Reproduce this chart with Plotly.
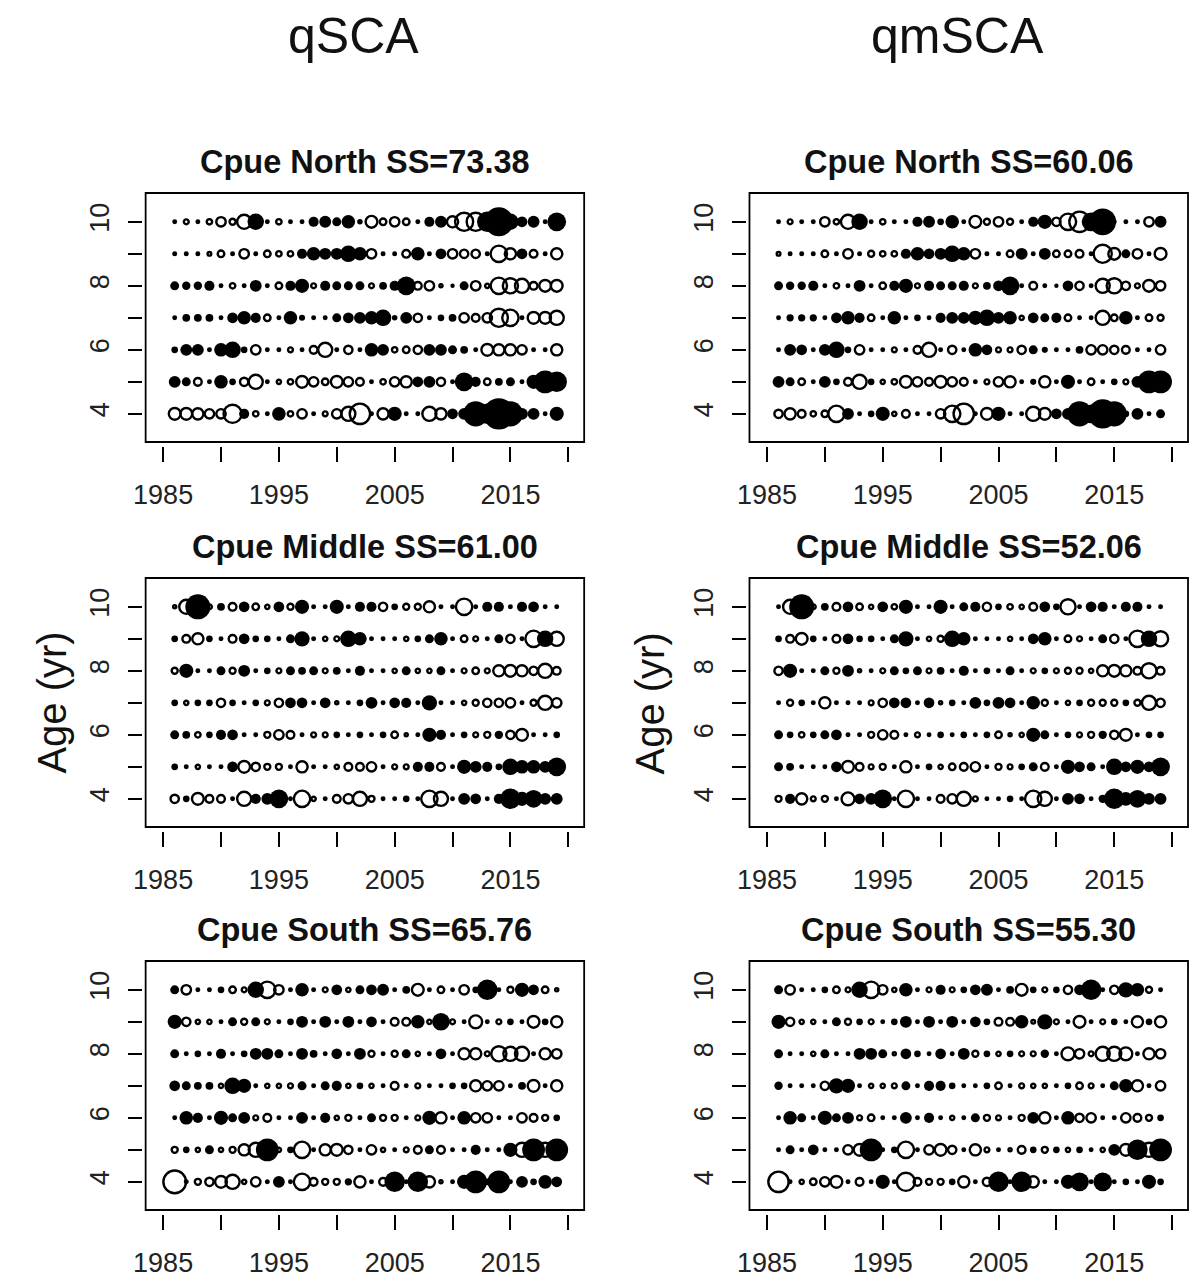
import plotly.graph_objects as go

# Survey years and ages shown in every panel
years = list(range(1986, 2020))
ages = [4, 5, 6, 7, 8, 9, 10]

# Pearson residuals by age (rows listed for ages 10, 9, 8, 7, 6, 5, 4);
# positive residuals are drawn filled, negative ones open.
north_qsca = [
    [0.3, -0.5, 0.3, -0.55, -0.9, -0.6, -1.3, 1.3, 0.3, -0.55, 0.3, 0.3, 0.75, 0.9, 0.65, 1.05, 0.35, -1.1, -0.65, -0.9, -0.65, 0.3, 0.75, 0.9, -1.05, -1.65, -1.65, 1.65, 2.4, 1.3, 0.8, 0.9, 0.3, 1.5],
    [0.3, 0.3, 0.3, -0.4, -0.65, 0.3, -0.9, 0.3, -0.65, -0.55, -0.55, 0.75, 1.05, 0.9, 0.9, 1.3, 1.05, -0.9, 0.3, 0.3, -0.75, 1.05, 0.3, 0.8, -0.9, -0.8, -0.8, 0.3, -1.5, -1.05, 0.8, -0.75, 0.3, -1.05],
    [0.65, 0.6, 0.6, 0.75, 0.3, -0.55, 0.3, 0.9, 0.3, -0.65, 0.75, 1.1, -0.5, 0.75, 0.65, 0.65, 0.65, -0.5, 0.55, 0.75, 1.5, -0.75, -0.9, -0.35, 0.25, 0.65, -0.9, -0.45, -1.5, -1.4, -1.3, -0.75, -1.1, -1.1],
    [0.3, 0.55, 0.55, 0.55, 0.3, 0.8, 1.05, 0.75, -0.65, 0.3, 1.05, 0.4, 0.3, 0.3, 0.65, 0.8, 0.9, 1.05, 1.3, 0.35, 0.9, -0.8, 0.3, 0.45, 0.55, -0.9, -0.75, -0.9, -1.65, -1.5, 0.3, -1.1, -1.1, -1.3],
    [0.45, 0.9, 0.9, 0.3, 1.05, 1.3, 0.45, -0.9, 0.3, 0.3, -0.5, 0.3, -0.75, -1.3, 0.3, -0.8, 0.3, 1.05, 0.9, -0.55, -0.65, -0.8, 0.9, 0.9, 0.65, 0.55, 0.3, -1.1, -1.05, -1.05, -0.9, 0.3, 0.3, -1.05],
    [0.9, 0.65, -0.75, 0.3, 1.05, 0.45, -0.8, -1.3, 0.3, -0.45, -0.55, -1.1, -0.9, -0.65, -1.1, -0.9, -0.75, 0.3, -0.55, -0.9, -1.05, 0.8, 0.9, -0.8, 0.3, 1.5, 0.75, -0.65, 0.55, 0.65, 0.3, 1.1, 1.85, 1.65],
    [-1.1, -1.1, -1.05, -0.9, -0.9, -1.65, 0.75, -0.55, 0.3, 1.05, -0.55, -0.9, 0.3, -0.5, -0.9, -1.3, -1.85, 0.3, -1.05, 1.1, 0.3, 0.3, -1.3, -1.05, 0.8, 0.9, 2.05, 1.65, 2.6, 2.05, 0.9, 0.9, 0.3, 1.1],
]

north_qmsca = [
    [0.3, -0.5, 0.3, 0.3, -0.9, -0.55, -1.3, 1.3, 0.3, -0.55, 0.3, 0.3, 0.75, 0.9, 0.45, 1.05, 0.3, -1.1, -0.6, -0.9, -0.6, 0.3, 0.75, 1.1, -0.8, -1.5, -1.85, 1.5, 2.2, 0.3, 0.3, 0.3, -0.9, 0.9],
    [-0.4, 0.3, 0.3, 0.3, -0.65, 0.3, -0.9, 0.3, -0.6, -0.55, -0.55, 0.75, 1.05, 0.8, 0.9, 1.3, 1.05, -0.9, 0.3, 0.3, -0.65, 0.9, 0.3, 0.9, -0.65, -0.65, -0.75, 0.3, -1.65, -1.1, 0.65, -0.9, 0.3, -1.1],
    [0.65, 0.6, 0.6, 0.75, 0.3, -0.55, 0.3, 0.9, 0.3, -0.65, 0.75, 1.1, -0.5, 0.75, 0.65, 0.65, 0.75, -0.5, 0.55, 0.8, 1.5, 0.3, -0.75, 0.3, 0.25, 0.8, -0.8, 0.3, -1.3, -1.4, -0.8, -0.5, -1.1, -0.9],
    [0.3, 0.5, 0.5, 0.5, 0.3, 0.8, 1.05, 0.75, -0.65, 0.3, 1.05, 0.3, 0.45, 0.3, 0.75, 0.9, 0.9, 1.1, 1.3, 0.9, 1.05, -0.45, 0.8, 0.65, 0.75, -0.65, 0.3, 0.3, -1.3, -0.65, 1.05, 0.3, -0.65, -0.6],
    [0.3, 0.9, 0.8, 0.3, 0.9, 1.3, 0.45, -0.9, 0.3, 0.3, -0.5, 0.3, -0.75, -1.3, 0.3, -0.8, 0.3, 1.05, 0.8, -0.5, -0.5, -0.8, 0.65, 0.4, 0.3, 0.3, 0.55, -0.9, -0.9, -0.8, -0.75, 0.3, 0.3, -0.9],
    [0.9, 0.65, -0.65, 0.3, 0.9, 0.45, -0.75, -1.3, 0.45, -0.45, -0.55, -1.1, -0.9, -0.75, -1.1, -0.9, -0.75, 0.3, -0.5, -0.9, -1.05, 0.3, 0.4, -1.05, 0.3, 1.1, 0.3, -0.65, 0.3, 0.45, -0.5, 0.9, 1.85, 1.85],
    [-0.8, -1.05, -0.75, -0.55, -0.65, -1.5, 0.9, 0.3, 0.45, 1.1, -0.45, -0.75, 0.3, 0.3, -0.9, -1.5, -1.85, 0.3, -1.1, 1.1, 0.3, 0.3, -1.3, -1.1, 0.8, 0.9, 2.05, 1.5, 2.4, 2.05, 0.45, 0.9, 0.3, 0.65],
]

middle_qsca = [
    [-0.35, -1.3, 2.05, -0.5, 0.55, -0.75, 0.8, -0.65, -0.45, 0.8, -0.6, 1.1, 0.3, 0.3, 1.1, 0.3, 0.75, 0.75, -0.8, 0.45, -0.6, -0.6, -1.05, 0.3, 0.3, -1.5, 0.3, 0.75, 0.75, 0.3, 0.75, 0.8, 0.3, 0.3],
    [0.45, -0.75, -1.05, 0.45, 0.3, -0.75, 0.8, 0.45, 0.45, 0.3, 0.65, 1.2, 0.3, -0.45, -0.5, 1.3, 1.05, 0.3, 0.3, 0.3, -0.45, 0.45, 0.65, 1.05, 0.3, -0.65, -0.5, 0.3, 0.65, -0.8, 0.3, -1.5, 1.3, -1.3],
    [-0.6, 1.1, 0.3, 0.3, 0.65, -0.6, 0.9, 0.3, 0.45, -0.5, 0.65, 0.55, 0.65, -0.5, 0.55, 0.3, 0.75, 0.3, 0.3, -0.45, 0.65, -0.45, -0.45, 0.65, 0.3, -0.5, -0.65, -0.5, -1.05, -1.1, -1.05, -0.8, -1.3, -0.75],
    [0.45, -0.45, 0.45, 0.45, -0.8, 0.45, 0.3, 0.45, -0.5, -0.8, 0.8, 0.8, 0.3, 0.8, -0.35, 0.3, 0.45, 0.9, 0.3, 0.8, 0.75, 0.3, 1.2, 0.3, 0.3, -0.45, -0.6, -0.8, -0.8, -0.9, 0.3, -0.6, -1.3, -0.9],
    [0.65, 0.55, -0.55, 0.45, 0.75, 0.8, 0.3, 0.3, -0.6, -0.9, -0.75, 0.3, -0.5, -0.5, 0.45, 0.3, 0.45, 0.3, 0.45, -0.65, -0.35, 0.3, 1.1, 0.75, 0.3, 0.45, -0.5, -0.6, 0.6, -0.8, -1.1, 0.3, 0.3, 0.45],
    [0.45, 0.3, -0.45, 0.3, 0.3, 0.8, -1.1, -0.8, -0.6, -0.6, 0.3, -1.05, 0.3, 0.3, -0.45, -0.75, -0.75, -0.9, 0.3, -0.5, -0.5, 0.75, 0.75, -0.75, 0.3, 1.1, 0.9, 0.75, 0.45, 1.3, 1.05, 1.05, 0.9, 1.5],
    [-0.8, 0.45, -1.1, -0.75, -0.75, 0.3, -1.3, 0.75, 0.9, 1.5, 0.3, -1.5, -0.45, 0.3, -0.75, -0.9, -1.3, -0.6, 0.3, 0.3, 0.45, 0.3, -1.5, -1.3, 0.3, 0.9, 0.8, 0.3, 0.75, 1.65, 1.1, 1.4, 0.9, 0.9],
]

middle_qmsca = [
    [0.3, -1.3, 2.05, -0.5, 0.55, -0.75, 0.8, -0.65, -0.45, 0.8, -0.55, 1.1, 0.3, 0.3, 1.1, 0.3, 0.65, 0.75, -0.8, 0.45, -0.55, -0.45, -0.75, 0.8, 0.45, -1.4, 0.3, 0.8, 0.75, 0.3, 0.75, 0.75, 0.3, 0.3],
    [0.45, -0.75, -1.1, 0.45, 0.3, -0.75, 0.8, 0.45, 0.45, 0.3, 0.65, 1.2, 0.3, -0.45, -0.6, 1.3, 1.05, 0.3, 0.3, 0.3, -0.45, 0.3, 0.8, 1.05, 0.3, -0.65, -0.5, 0.3, 0.65, -0.8, 0.3, -1.5, 1.3, -1.4],
    [-0.8, 1.1, 0.3, 0.3, 0.65, -0.6, 0.9, -0.35, 0.3, -0.5, 0.65, 0.45, 0.65, -0.5, 0.55, 0.3, 0.75, 0.3, 0.45, 0.3, 0.65, 0.3, -0.5, 0.45, -0.5, -0.6, -0.6, -0.45, -1.05, -1.1, -1.05, -0.75, -1.4, -0.75],
    [0.3, -0.6, 0.45, 0.3, -1.05, 0.3, 0.3, 0.3, -0.5, -0.8, 0.8, 0.8, 0.3, 0.8, -0.35, 0.45, 0.3, 0.9, 0.45, 0.9, 0.8, 0.3, 1.05, -0.6, 0.3, -0.45, 0.45, -0.6, -0.6, -0.6, 0.45, -0.6, -1.3, -0.8],
    [0.65, 0.45, -0.55, 0.45, 0.65, 0.8, 0.3, 0.3, -0.6, -0.9, -0.75, 0.3, -0.5, 0.3, 0.45, 0.3, 0.45, 0.3, 0.45, -0.65, -0.35, -0.45, 1.1, 0.65, 0.3, 0.45, -0.5, -0.6, 0.6, -0.8, -1.1, 0.3, 0.45, 0.45],
    [0.65, 0.55, 0.3, 0.3, 0.3, 0.8, -1.1, -0.75, -0.5, -0.6, 0.3, -1.05, 0.3, 0.45, -0.45, -0.65, -0.75, -0.9, 0.3, -0.6, -0.5, 0.45, 0.65, -0.75, 0.3, 1.1, 0.8, 0.65, 0.3, 1.3, 0.8, 1.1, 0.8, 1.5],
    [-0.6, 0.75, -1.05, -0.5, -0.6, 0.3, -1.2, 0.8, 0.9, 1.5, 0.3, -1.5, 0.3, 0.3, -0.75, -0.9, -1.3, -0.5, 0.3, 0.3, 0.45, 0.3, -1.5, -1.3, 0.3, 0.9, 0.8, 0.3, 0.6, 1.65, 1.05, 1.4, 0.9, 0.9],
]

south_qsca = [
    [0.65, -0.9, 0.3, 0.3, 0.45, -0.65, -0.5, 1.3, -1.5, -0.9, 0.3, 1.05, 0.3, -0.5, 0.8, -0.45, 0.65, 0.8, 0.9, 0.3, 0.55, -1.1, 0.3, -0.65, 0.3, -0.9, 0.45, 1.65, 0.3, -0.6, 1.1, 0.8, -0.65, -0.35],
    [1.1, -0.8, -0.45, -0.45, 0.3, 0.65, -0.6, 0.65, -0.5, 0.3, 0.45, 0.9, 0.3, 0.9, 0.3, 0.9, 0.3, 0.8, 0.3, -0.75, -0.75, 1.05, -0.45, 1.4, -0.5, 0.3, -1.2, 0.3, -0.5, 0.45, 0.3, -1.1, 0.45, -1.05],
    [0.65, 0.3, 0.45, 0.3, 0.75, 0.3, 0.45, 0.9, 0.9, 0.65, 0.3, 0.9, 0.55, 0.3, 0.8, 0.3, 0.9, -0.6, 0.3, -0.6, 0.65, -0.45, 0.3, 0.8, 0.3, -1.05, -1.05, -0.5, -1.4, -1.3, -1.3, 0.3, -1.05, -0.9],
    [0.8, 0.65, 0.55, 0.55, -0.45, 1.3, 1.1, 0.3, -0.45, -0.45, -0.5, 0.65, 0.3, 0.65, 0.75, -0.45, 0.45, -0.45, 0.3, -0.75, 0.3, -0.5, 0.3, 0.3, 0.45, 0.45, -1.05, -0.9, -0.9, 0.3, 0.55, -1.1, 0.3, -1.05],
    [0.3, 1.05, 0.75, 0.3, 1.1, 0.65, 0.9, -0.5, -0.75, 0.3, 0.3, 0.9, 0.3, 0.75, -0.45, -0.6, 0.3, 0.65, -0.6, -0.6, 0.3, -0.5, 1.1, -1.05, 0.3, 1.05, -0.9, -0.9, 0.3, 0.3, -0.9, -0.75, -0.6, 0.45],
    [-0.6, 0.45, -0.45, 0.65, -0.45, -0.6, -1.05, -1.3, 1.85, -0.45, 0.45, -1.5, 0.3, -1.05, -1.1, -0.8, 0.3, -0.9, -0.45, 0.3, -0.5, -0.75, 0.65, -0.75, 0.3, 0.3, 0.75, 0.3, 0.3, 1.1, -1.3, 1.85, -1.3, 1.85],
    [-2.05, 0.3, -0.6, -0.8, -1.1, -1.3, -0.45, -0.9, -0.3, 0.9, 0.3, -1.5, -0.75, -0.6, -0.6, 0.5, -1.05, 0.3, -0.75, 1.65, 0.3, 1.65, -1.05, -0.35, 0.3, 1.1, 1.85, 0.45, 1.85, 0.3, 0.9, 0.45, 1.05, 0.8],
]

south_qmsca = [
    [0.65, -0.9, 0.3, 0.3, 0.45, -0.65, -0.5, 1.3, -1.5, -0.9, -0.45, 1.05, 0.3, -0.5, 0.75, -0.5, 0.45, 0.8, 0.9, 0.3, 0.55, -1.1, 0.45, -0.5, 0.45, -0.8, 0.8, 1.65, 0.3, -0.8, 1.2, 1.05, -0.6, 0.3],
    [1.1, -0.8, -0.45, -0.45, 0.3, 0.65, -0.6, 0.45, -0.5, 0.3, 0.45, 0.9, 0.3, 0.9, 0.3, 0.9, 0.3, 0.8, 0.45, -0.75, -0.75, 1.05, -0.4, 1.2, -0.5, 0.3, -1.1, 0.3, -0.5, 0.45, 0.3, -1.05, 0.45, -1.05],
    [0.65, 0.3, 0.3, -0.45, 0.65, 0.3, 0.3, 0.9, 0.9, 0.65, -0.35, 0.8, 0.45, 0.3, 0.8, 0.3, 0.9, -0.6, 0.45, -0.45, 0.45, -0.5, -0.5, 0.6, 0.3, -1.2, -0.9, -0.5, -1.3, -1.3, -1.2, 0.3, -1.05, -0.9],
    [0.6, 0.3, 0.3, 0.3, -0.8, 1.2, 1.1, 0.3, -0.45, -0.45, -0.5, 0.65, 0.3, 0.75, 0.75, 0.45, 0.3, 0.3, 0.45, -0.65, 0.3, -0.5, -0.45, -0.45, 0.3, 0.45, -0.65, -0.5, 0.3, 0.65, 1.05, -1.05, 0.3, -0.9],
    [0.3, 1.05, 0.65, 0.3, 1.1, 0.65, 0.9, -0.5, -0.65, 0.3, 0.3, 0.9, 0.3, 0.75, 0.3, -0.45, 0.3, 0.65, -0.6, -0.5, 0.3, -0.6, 0.9, -1.05, 0.3, 1.05, -0.8, -0.9, 0.3, 0.3, -0.9, -0.75, -0.6, 0.45],
    [0.3, 0.65, 0.3, 0.8, 0.3, 0.3, -0.9, -1.1, 1.85, 0.3, 0.45, -1.5, 0.3, -0.9, -1.1, -0.8, 0.3, -1.05, -0.5, 0.3, -0.35, -0.75, 0.45, -0.6, 0.45, -0.45, 0.45, 0.3, -0.45, 0.9, -1.1, 1.65, -1.3, 1.85],
    [-1.85, 0.3, -0.45, -0.65, -0.9, -1.1, 0.3, -0.75, 0.3, 1.1, 0.3, -1.65, -0.75, -0.6, -0.6, 0.45, -1.05, 0.3, -0.8, 1.65, 0.3, 1.65, -1.05, 0.3, 0.3, 1.1, 1.5, 0.3, 1.5, 0.3, 0.45, 0.3, 1.1, 0.45],
]

panel_titles = [
    "Cpue North SS=73.38", "Cpue North SS=60.06",
    "Cpue Middle SS=61.00", "Cpue Middle SS=52.06",
    "Cpue South SS=65.76", "Cpue South SS=55.30",
]
panel_data = [north_qsca, north_qmsca, middle_qsca, middle_qmsca, south_qsca, south_qmsca]
column_titles = ["qSCA", "qmSCA"]
x_tickvals = [1985, 1990, 1995, 2000, 2005, 2010, 2015, 2020]
x_ticktext = ["1985", "", "1995", "", "2005", "", "2015", ""]
y_tickvals = [4, 5, 6, 7, 8, 9, 10]
y_ticktext = ["4", "", "6", "", "8", "", "10"]

# ---- page geometry (pixels) ----
W, H = 1189, 1278
FONT = "Liberation Sans, Arial, Helvetica, sans-serif"
col_left = [135, 745]           # left edge of the plotting box in each column
box_w = 443
row_top = [193, 578, 961]       # top edge of the plotting box in each row
box_h = 249
OPEN_LW = 2.4


def bubble_diameter(v):
    """Outer bubble diameter in px for a residual of magnitude |v|."""
    return 1.5 + 11.5 * abs(v)


fig = go.Figure()
shapes, annotations = [], []

for k, (title, rows) in enumerate(zip(panel_titles, panel_data)):
    r, c = divmod(k, 2)
    n = k + 1
    xa = "xaxis" if n == 1 else f"xaxis{n}"
    ya = "yaxis" if n == 1 else f"yaxis{n}"
    xr = "x" if n == 1 else f"x{n}"
    yr = "y" if n == 1 else f"y{n}"

    x0, x1 = col_left[c], col_left[c] + box_w
    y0, y1 = row_top[r], row_top[r] + box_h

    pos_x, pos_y, pos_s = [], [], []
    neg_x, neg_y, neg_s = [], [], []
    for age, vals in zip(ages[::-1], rows):
        assert len(vals) == len(years)
        for yr_, v in zip(years, vals):
            d = bubble_diameter(v)
            if v >= 0:
                pos_x.append(yr_); pos_y.append(age); pos_s.append(d)
            else:
                neg_x.append(yr_); neg_y.append(age)
                neg_s.append(max(d - OPEN_LW, 1.0))

    fig.add_trace(go.Scatter(
        x=pos_x, y=pos_y, mode="markers", xaxis=xr, yaxis=yr, showlegend=False,
        marker=dict(symbol="circle", size=pos_s, color="#000000", opacity=1,
                    line=dict(width=0)),
        hoverinfo="skip"))
    fig.add_trace(go.Scatter(
        x=neg_x, y=neg_y, mode="markers", xaxis=xr, yaxis=yr, showlegend=False,
        marker=dict(symbol="circle-open", size=neg_s, color="#000000", opacity=1,
                    line=dict(width=OPEN_LW, color="#000000")),
        hoverinfo="skip"))

    fig.update_layout(**{
        xa: dict(domain=[x0 / W, x1 / W], range=[1983.49, 2021.37],
                 anchor="free", position=1 - (y1 + 4) / H,
                 showline=False, showgrid=False, zeroline=False,
                 ticks="outside", ticklen=15, tickwidth=1.6, tickcolor="black",
                 tickvals=x_tickvals, ticktext=x_ticktext,
                 tickfont=dict(family=FONT, size=27, color="#222"),
                 ticklabelstandoff=10),
        ya: dict(domain=[1 - y1 / H, 1 - y0 / H], range=[3.12, 10.9],
                 anchor="free", position=(x0 - 4) / W,
                 showline=False, showgrid=False, zeroline=False,
                 ticks="outside", ticklen=14, tickwidth=1.6, tickcolor="black",
                 tickvals=y_tickvals, ticktext=y_ticktext, tickangle=-90,
                 tickfont=dict(family=FONT, size=27, color="#222"),
                 ticklabelstandoff=8),
    })

    shapes.append(dict(type="rect", xref=f"{xr} domain", yref=f"{yr} domain",
                       x0=0, x1=1, y0=0, y1=1,
                       line=dict(color="black", width=1.8)))

    annotations.append(dict(text=f"<b>{title}</b>", x=(x0 + x1) / 2 / W,
                            y=1 - (y0 - 31) / H, xref="paper", yref="paper",
                            xanchor="center", yanchor="middle", showarrow=False,
                            font=dict(family=FONT, size=32.5, color="#111")))

for c, t in enumerate(column_titles):
    annotations.append(dict(text=t, x=(345 + 610 * c) / W, y=1 - 36 / H,
                            xref="paper", yref="paper", xanchor="center",
                            yanchor="middle", showarrow=False,
                            font=dict(family=FONT, size=50, color="#111")))
    annotations.append(dict(text="Age (yr)", x=(40 + 605 * c) / W,
                            y=1 - 703 / H, xref="paper", yref="paper",
                            xanchor="center", yanchor="middle", textangle=-90,
                            showarrow=False,
                            font=dict(family=FONT, size=40, color="#111")))

fig.update_layout(width=W, height=H, margin=dict(l=0, r=0, t=0, b=0),
                  paper_bgcolor="white", plot_bgcolor="white",
                  shapes=shapes, annotations=annotations)

fig.write_html("out.html")
